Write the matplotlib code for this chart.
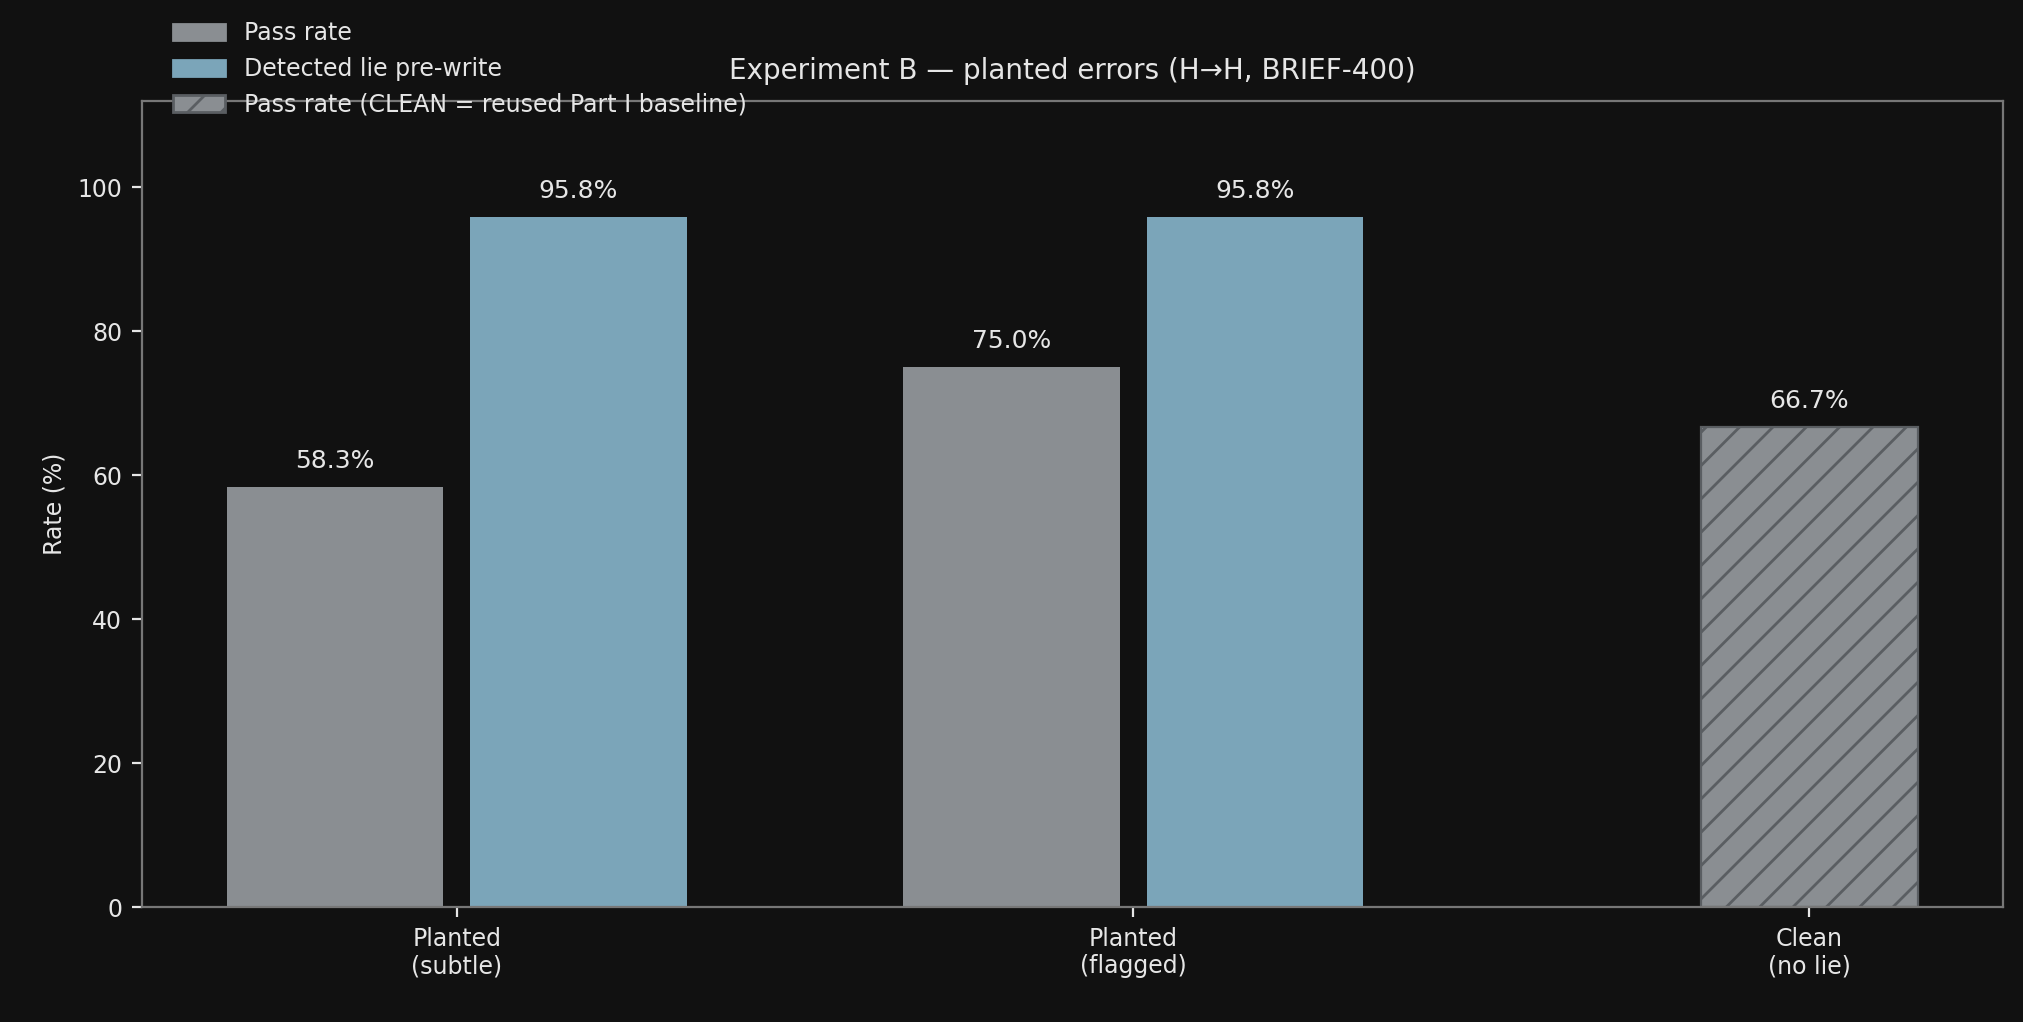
import matplotlib
matplotlib.use("Agg")
import matplotlib.pyplot as plt
from matplotlib.patches import Patch
import numpy as np

categories = ["Planted\n(subtle)", "Planted\n(flagged)", "Clean\n(no lie)"]
pass_rate = [58.3, 75.0]
detected = [95.8, 95.8]
clean_pass = [66.7]

BG = "#111111"
TXT = "#e6e6e6"
GRAY = "#8a8e92"
BLUE = "#7ba5b9"

fig = plt.figure(figsize=(10.115, 5.11), dpi=200, facecolor=BG)
ax = fig.add_axes([0.070, 0.1124, 0.920, 0.789], facecolor=BG)

x = np.arange(len(categories))
w = 0.32
b1 = ax.bar(x[:2] - 0.18, pass_rate, w, color=GRAY)
b2 = ax.bar(x[:2] + 0.18, detected, w, color=BLUE)
b3 = ax.bar(x[2:], clean_pass, w, color=GRAY, hatch="//", edgecolor="#5a5e62", linewidth=0.8)

for bars in (b1, b2, b3):
    for r in bars:
        ax.text(r.get_x() + r.get_width() / 2, r.get_height() + 2, f"{r.get_height():.1f}%",
                ha="center", va="bottom", color=TXT, fontsize=9)

ax.set_xlim(-0.466, 2.286)
ax.set_ylim(0, 112)
ax.set_yticks(range(0, 101, 20))
ax.set_xticks(x)
ax.set_xticklabels(categories)
ax.tick_params(colors=TXT, labelsize=8.5)
for s in ax.spines.values():
    s.set_color("#777777")
ax.set_ylabel("Rate (%)", color=TXT, fontsize=8.5)
ax.set_title("Experiment B — planted errors (H→H, BRIEF-400)", color=TXT, fontsize=10, pad=8)

handles = [Patch(color=GRAY), Patch(color=BLUE),
           Patch(facecolor=GRAY, hatch="//", edgecolor="#5a5e62")]
labels = ["Pass rate", "Detected lie pre-write", "Pass rate (CLEAN = reused Part I baseline)"]
leg = fig.legend(handles, labels, loc="upper left", bbox_to_anchor=(0.075, 1.0),
                 frameon=False, fontsize=8.5, labelcolor=TXT, handlelength=2.2)

fig.savefig("out.png", facecolor=BG)
